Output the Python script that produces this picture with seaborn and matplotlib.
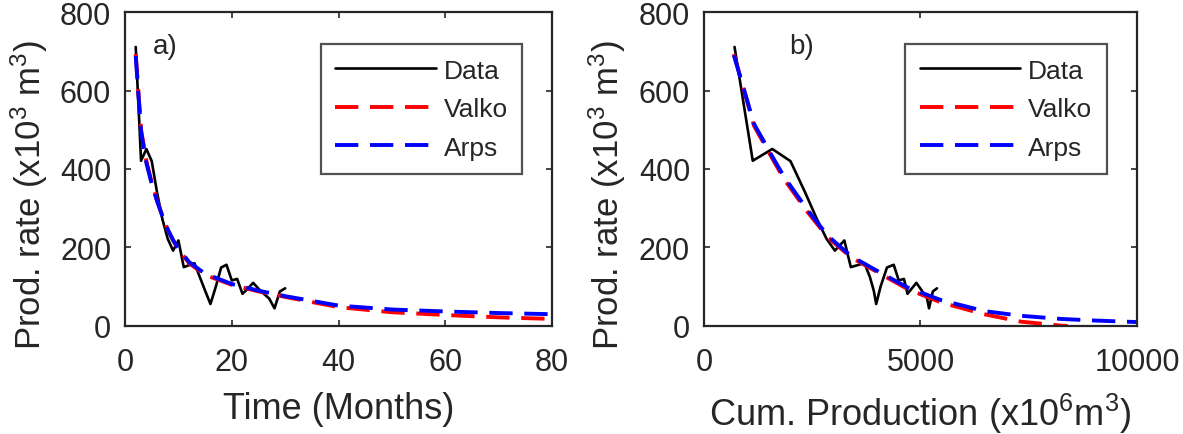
import matplotlib
matplotlib.use("Agg")
import matplotlib.pyplot as plt
import seaborn as sns
import pandas as pd

months = [2, 3, 4, 5, 6, 7, 8, 9, 10, 11, 12, 13, 14, 15, 16, 17, 18, 19,
          20, 21, 22, 23, 24, 25, 26, 27, 28, 29, 30]
rate_data = [711, 421, 451, 420, 340, 272, 222, 192, 218, 150, 155, 160,
             125, 90, 56, 100, 149, 156, 116, 120, 82, 95, 110, 95, 82,
             70, 45, 88, 96]
cum_data = [705, 1126, 1577, 1997, 2337, 2609, 2831, 3023, 3241, 3391,
            3546, 3706, 3831, 3921, 3977, 4077, 4226, 4382, 4498, 4618,
            4700, 4795, 4905, 5000, 5082, 5152, 5197, 5285, 5381]

# fitted curves vs time
fit_months = [2, 3, 4, 5, 6, 7, 8, 9, 10, 12, 15, 20, 25, 30, 40, 50, 60, 70, 80]
valko_t = [693, 500, 420, 365, 320, 280, 245, 218, 195, 160, 130, 105, 88,
           74, 48, 35, 28, 22, 18]
arps_t = [688, 495, 415, 362, 318, 280, 246, 219, 197, 163, 133, 107, 90,
          76, 52, 42, 37, 33, 30]

# fitted curves vs cumulative production
valko_cum = [690, 1155, 1587, 1850, 2395, 2857, 3395, 4088, 4704, 5473,
             6470, 7320, 8245, 8400]
valko_q = [693, 510, 425, 374, 290, 226, 175, 132, 94, 60, 30, 11, 1, 0]
arps_cum = [690, 1155, 1587, 1850, 2395, 2857, 3395, 4088, 4704, 5473,
            6470, 7320, 8245, 9000, 10000]
arps_q = [690, 515, 430, 380, 295, 230, 178, 135, 98, 66, 38, 26, 18, 14, 10]

sns.set_style("white")
plt.rcParams["font.family"] = ["Liberation Sans", "DejaVu Sans"]
plt.rcParams["mathtext.fontset"] = "custom"
plt.rcParams["mathtext.rm"] = "Liberation Sans"
plt.rcParams["mathtext.it"] = "Liberation Sans:italic"

AX_COL = "#262626"
DASH = (6.0, 3.0)

fig = plt.figure(figsize=(11.83, 4.35), dpi=100)
ax1 = fig.add_axes([0.1057, 0.2483, 0.361, 0.7218])
ax2 = fig.add_axes([0.5951, 0.2483, 0.366, 0.7218])

df_t = pd.DataFrame({"t": months, "q": rate_data})
df_ft = pd.DataFrame({"t": fit_months, "valko": valko_t, "arps": arps_t})
df_c = pd.DataFrame({"cum": cum_data, "q": rate_data})
df_vc = pd.DataFrame({"cum": valko_cum, "q": valko_q})
df_ac = pd.DataFrame({"cum": arps_cum, "q": arps_q})


def draw(ax, data, x, y, color, label, dashed):
    sns.lineplot(data=data, x=x, y=y, ax=ax, color=color, label=label,
                 lw=2.8 if dashed else 1.9, sort=False, estimator=None)
    if dashed:
        ax.lines[-1].set_dashes(DASH)


draw(ax1, df_t, "t", "q", "black", "Data", False)
draw(ax1, df_ft, "t", "valko", "red", "Valko", True)
draw(ax1, df_ft, "t", "arps", "blue", "Arps", True)

draw(ax2, df_c, "cum", "q", "black", "Data", False)
draw(ax2, df_vc, "cum", "q", "red", "Valko", True)
draw(ax2, df_ac, "cum", "q", "blue", "Arps", True)

ax1.set_xlim(0, 80)
ax1.set_xticks([0, 20, 40, 60, 80])
ax2.set_xlim(0, 10000)
ax2.set_xticks([0, 5000, 10000])

for ax, tag, tx, xlab in ((ax1, "a)", 5.2, "Time (Months)"),
                          (ax2, "b)", 1960, "Cum. Production (x10$^6$m$^3$)")):
    ax.set_ylim(0, 800)
    ax.set_yticks([0, 200, 400, 600, 800])
    for s in ax.spines.values():
        s.set_color(AX_COL)
        s.set_linewidth(1.6)
        s.set_visible(True)
    ax.tick_params(direction="in", length=4.5, width=1.2, colors=AX_COL,
                   labelcolor=AX_COL, labelsize=22, top=True, right=True,
                   left=True, bottom=True)
    ax.tick_params(axis="x", pad=15)
    ax.tick_params(axis="y", pad=10)
    ax.set_xlabel(xlab, fontsize=26, color=AX_COL, labelpad=10)
    ax.set_ylabel("Prod. rate (x10$^{3}$ m$^{3}$)", fontsize=25, color=AX_COL)
    ax.yaxis.set_label_coords(-0.175, 0.42)
    ax.text(tx, 713, tag, fontsize=20, color=AX_COL, va="center", ha="left")
    leg = ax.legend(loc="upper right", bbox_to_anchor=(0.93, 0.898),
                    fontsize=19, frameon=True, fancybox=False,
                    handlelength=3.8, handletextpad=0.3, labelspacing=0.55,
                    borderpad=0.55, borderaxespad=0)
    leg.get_frame().set_edgecolor(AX_COL)
    leg.get_frame().set_linewidth(1.6)
    for t in leg.get_texts():
        t.set_color(AX_COL)

fig.savefig("out.png", dpi=100)
